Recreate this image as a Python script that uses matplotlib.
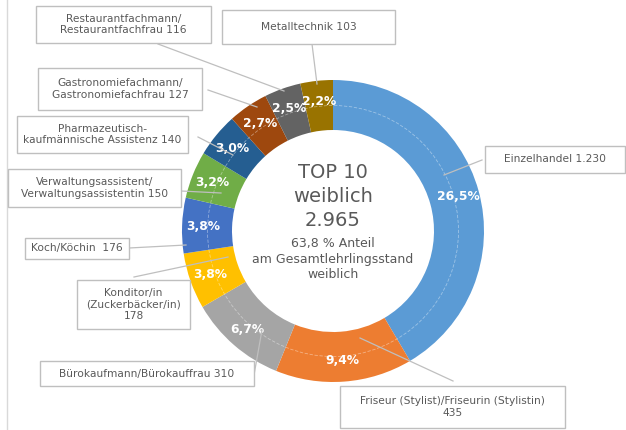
import matplotlib.pyplot as plt
import numpy as np
from matplotlib.patches import Rectangle, Circle

# Top-10 Lehrberufe weiblich
names = ["Einzelhandel", "Friseur (Stylist)/Friseurin (Stylistin)",
         "Bürokaufmann/Bürokauffrau", "Konditor/in\n(Zuckerbäcker/in)",
         "Koch/Köchin ", "Verwaltungsassistent/\nVerwaltungsassistentin",
         "Pharmazeutisch-\nkaufmännische Assistenz",
         "Gastronomiefachmann/\nGastronomiefachfrau",
         "Restaurantfachmann/\nRestaurantfachfrau", "Metalltechnik"]
counts = [1230, 435, 310, 178, 176, 150, 140, 127, 116, 103]
pct_labels = ["26,5%", "9,4%", "6,7%", "3,8%", "3,8%", "3,2%", "3,0%", "2,7%", "2,5%", "2,2%"]
count_on_newline = [False, True, False, True, False, False, False, False, False, False]
colors = ["#5B9BD5", "#ED7D31", "#A5A5A5", "#FFC000", "#4472C4",
          "#70AD47", "#255E91", "#9E480E", "#636363", "#997300"]

total = "2.965"
share = "63,8 %"

W, H = 626, 430
TXT = "#595959"


def px(x, y):
    return x, H - y


# label boxes in pixel coords: (x0, y0, x1, y1), leader line (box end, slice end)
boxes = [(485, 146, 625, 173), (340, 386, 565, 428), (40, 361, 254, 386),
         (77, 280, 190, 329), (25, 238, 129, 259), (8, 169, 181, 207),
         (17, 116, 188, 153), (38, 68, 202, 110), (36, 6, 211, 43),
         (222, 10, 395, 44)]
leaders = [((482, 160), (444, 175)), ((453, 381), (360, 338)), ((254, 375), (262, 330)),
           ((134, 277), (228, 257)), ((129, 248), (186, 245)), ((181, 191), (221, 193)),
           ((198, 137), (233, 155)), ((208, 90), (257, 107)), ((158, 44), (284, 91)),
           ((312, 44), (317, 84))]

fig = plt.figure(figsize=(W / 100, H / 100), dpi=100)
ax = fig.add_axes([0, 0, 1, 1])
ax.set_xlim(0, W)
ax.set_ylim(0, H)
ax.set_aspect("equal")
ax.axis("off")

cx, cy = px(333, 231)
R = 151
wedges, _ = ax.pie(counts, colors=colors, startangle=90, counterclock=False,
                   radius=R, center=(cx, cy),
                   wedgeprops=dict(width=50, linewidth=0))
ax.set_xlim(0, W)
ax.set_ylim(0, H)

# faint separator of the two rings
ax.add_patch(Circle((cx, cy), 125.5, fill=False, edgecolor="white",
                    lw=0.6, alpha=0.4, linestyle=(0, (4, 2))))

for w, lab in zip(wedges, pct_labels):
    ang = np.deg2rad((w.theta1 + w.theta2) / 2)
    ax.text(cx + 130 * np.cos(ang), cy + 130 * np.sin(ang), lab,
            ha="center", va="center", color="white", fontsize=8.8,
            fontweight="bold")

for name, n, nl, (x0, y0, x1, y1), (p0, p1) in zip(names, counts, count_on_newline, boxes, leaders):
    num = f"{n:,}".replace(",", ".")
    label = name + ("\n" if nl else " ") + num
    ax.plot([p0[0], p1[0]], [H - p0[1], H - p1[1]], color="#BFBFBF", lw=0.9, zorder=3)
    ax.add_patch(Rectangle((x0, H - y1), x1 - x0, y1 - y0, facecolor="white",
                           edgecolor="#BFBFBF", lw=1, zorder=4))
    ax.text((x0 + x1) / 2, H - (y0 + y1) / 2, label, ha="center", va="center",
            color=TXT, fontsize=7.7, linespacing=1.2, zorder=5)

# center text
ax.text(cx, H - 172, "TOP 10", ha="center", va="center", color=TXT, fontsize=14)
ax.text(cx, H - 197, "weiblich", ha="center", va="center", color=TXT, fontsize=14)
ax.text(cx, H - 221, total, ha="center", va="center", color=TXT, fontsize=14)
ax.text(cx, H - 243, f"{share} Anteil", ha="center", va="center", color=TXT, fontsize=9)
ax.text(cx, H - 259, "am Gesamtlehrlingsstand", ha="center", va="center", color=TXT, fontsize=9)
ax.text(cx, H - 275, "weiblich", ha="center", va="center", color=TXT, fontsize=9)

# left frame line
ax.plot([7, 7], [0, H], color="#D9D9D9", lw=1)

fig.savefig("out.png", dpi=100)
